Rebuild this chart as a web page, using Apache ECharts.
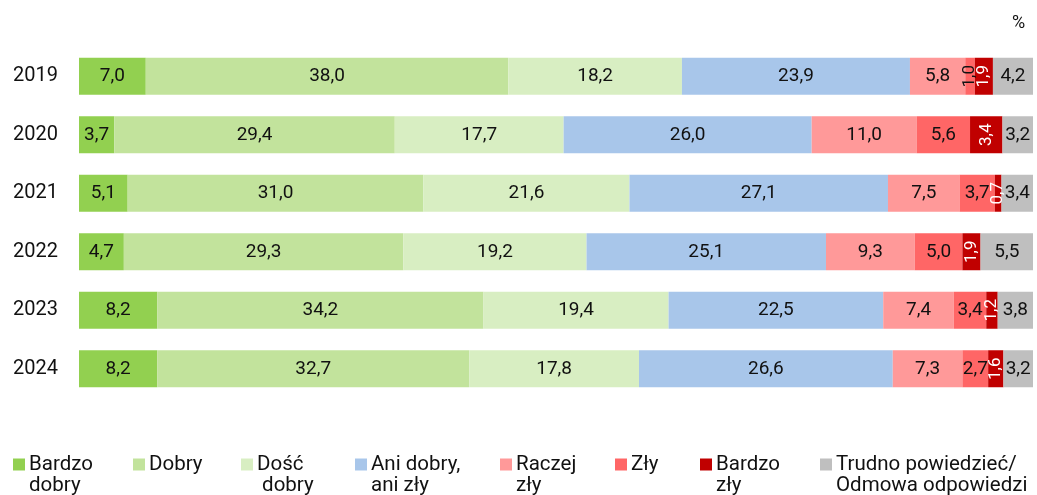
<!DOCTYPE html>
<html>
<head>
<meta charset="utf-8">
<script src="https://cdn.jsdelivr.net/npm/echarts@6/dist/echarts.min.js"></script>
<style>
  html, body { margin: 0; padding: 0; background: #fff; }
  #chart { width: 1037px; height: 495px; }
</style>
</head>
<body>
<div id="chart"></div>
<script>
var years = ['2019', '2020', '2021', '2022', '2023', '2024'];

var seriesNames = ['Bardzo\ndobry', 'Dobry', 'Dość\n dobry', 'Ani dobry,\nani zły', 'Raczej\nzły', 'Zły', 'Bardzo\nzły', 'Trudno powiedzieć/\nOdmowa odpowiedzi'];

var bardzoDobry = [7.0, 3.7, 5.1, 4.7, 8.2, 8.2];
var dobry = [38.0, 29.4, 31.0, 29.3, 34.2, 32.7];
var doscDobry = [18.2, 17.7, 21.6, 19.2, 19.4, 17.8];
var aniDobry = [23.9, 26.0, 27.1, 25.1, 22.5, 26.6];
var raczejZly = [5.8, 11.0, 7.5, 9.3, 7.4, 7.3];
var zly = [1.0, 5.6, 3.7, 5.0, 3.4, 2.7];
var bardzoZly = [1.9, 3.4, 0.7, 1.9, 1.2, 1.6];
var trudno = [4.2, 3.2, 3.4, 5.5, 3.8, 3.2];

var allValues = [bardzoDobry, dobry, doscDobry, aniDobry, raczejZly, zly, bardzoZly, trudno];
var colors = ['#92d050', '#c2e39c', '#d8eec2', '#a8c6ea', '#ff9999', '#ff6666', '#c00000', '#bfbfbf'];
var legendLeft = [13, 133, 241, 355, 500, 615, 700, 820];

function fmt(v) {
	return v.toFixed(1).replace('.', ',');
}

var series = [];
for (var i = 0; i < allValues.length; i++) {
	var isDark = (i === 6);
	var data = allValues[i].map(function(v) {
		var item = { value: v };
		if (v < 2 || isDark) {
			item.label = { rotate: 90, fontSize: 17 };
		}
		return item;
	});
	series.push({
		name: seriesNames[i],
		type: 'bar',
		stack: 'total',
		barWidth: 37,
		itemStyle: { color: colors[i] },
		label: {
			show: true,
			position: 'inside',
			color: isDark ? '#fff' : '#111',
			fontSize: 19,
			fontFamily: 'Roboto',
			formatter: function(p) { return fmt(p.value); }
		},
		data: data
	});
}

// legend: first line via legend component, second line as text below it
var legends = [];
var secondLines = [];
for (var j = 0; j < seriesNames.length; j++) {
	legends.push({
		data: [seriesNames[j]],
		left: legendLeft[j] - 5,
		top: 449,
		itemWidth: 12,
		itemHeight: 12,
		itemGap: 0,
		icon: 'rect',
		selectedMode: false,
		formatter: function(name) { return name.split('\n')[0]; },
		textStyle: { fontSize: 20.5, fontFamily: 'Roboto', color: '#111', padding: [0, 0, 0, -1] }
	});
	var parts = seriesNames[j].split('\n');
	if (parts.length > 1) {
		secondLines.push({
			type: 'text',
			left: legendLeft[j] + 16,
			top: 475,
			style: { text: parts[1], fontSize: 20.5, fontFamily: 'Roboto', fill: '#111' }
		});
	}
}

var myChart = echarts.init(document.getElementById('chart'));
var option = {
	animation: false,
	grid: { left: 79, right: 4, top: 47, bottom: 97, containLabel: false },
	xAxis: {
		type: 'value',
		min: 0,
		max: 100,
		show: false
	},
	yAxis: {
		type: 'category',
		data: years,
		inverse: true,
		axisLine: { show: false },
		axisTick: { show: false },
		axisLabel: { fontSize: 20, fontFamily: 'Roboto', color: '#111', margin: 21 }
	},
	graphic: [{
		type: 'text',
		left: 1012,
		top: 14,
		style: { text: '%', fontSize: 18, fontFamily: 'Roboto', fill: '#111' }
	}].concat(secondLines),
	legend: legends,
	series: series
};
myChart.setOption(option);
</script>
</body>
</html>
